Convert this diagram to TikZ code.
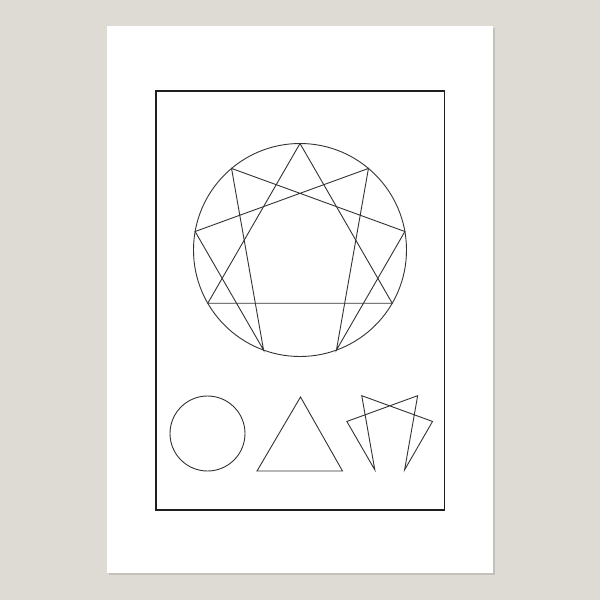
\documentclass[tikz,border=0pt]{standalone}
\begin{document}
\begin{tikzpicture}[x=1pt,y=-1pt,
  fig/.style={draw=black!80,line width=0.9pt,line join=miter},
  frame/.style={draw=black!88,line width=1.8pt}]
\definecolor{bgc}{RGB}{222,218,212}
\definecolor{shadowc}{RGB}{196,192,186}
\useasboundingbox (0,0) rectangle (600,600);
\fill[bgc] (0,0) rectangle (600,600);
% paper shadow and paper
\fill[shadowc] (108.5,27.5) rectangle (494.5,574.5);
\fill[white] (107,26) rectangle (493,573);
% inner frame
\draw[frame] (156,91) rectangle (444.5,510);
% enneagram
\coordinate (ec) at (300,250);
\draw[fig] (ec) circle[radius=106.5];
\foreach \k in {0,...,8}
  \coordinate (e\k) at ({300+106.5*sin(40*\k)},{250-106.5*cos(40*\k)});
\draw[fig] (e0) -- (e3) -- (e6) -- cycle;
\draw[fig] (e1) -- (e4) -- (e2) -- (e8) -- (e5) -- (e7) -- cycle;
% small circle
\coordinate (sc) at (207.5,433.5);
\draw[fig] (sc) circle[radius=37.5];
% triangle
\coordinate (t1) at (300.5,397);
\coordinate (t2) at (342.5,471);
\coordinate (t3) at (257,471);
\draw[fig] (t1) -- (t2) -- (t3) -- cycle;
% hexad
\foreach \k in {1,2,4,5,7,8}
  \coordinate (h\k) at ({389.7+43.5*sin(40*\k)},{429-43.5*cos(40*\k)});
\draw[fig] (h1) -- (h4) -- (h2) -- (h8) -- (h5) -- (h7) -- cycle;
\end{tikzpicture}
\end{document}
